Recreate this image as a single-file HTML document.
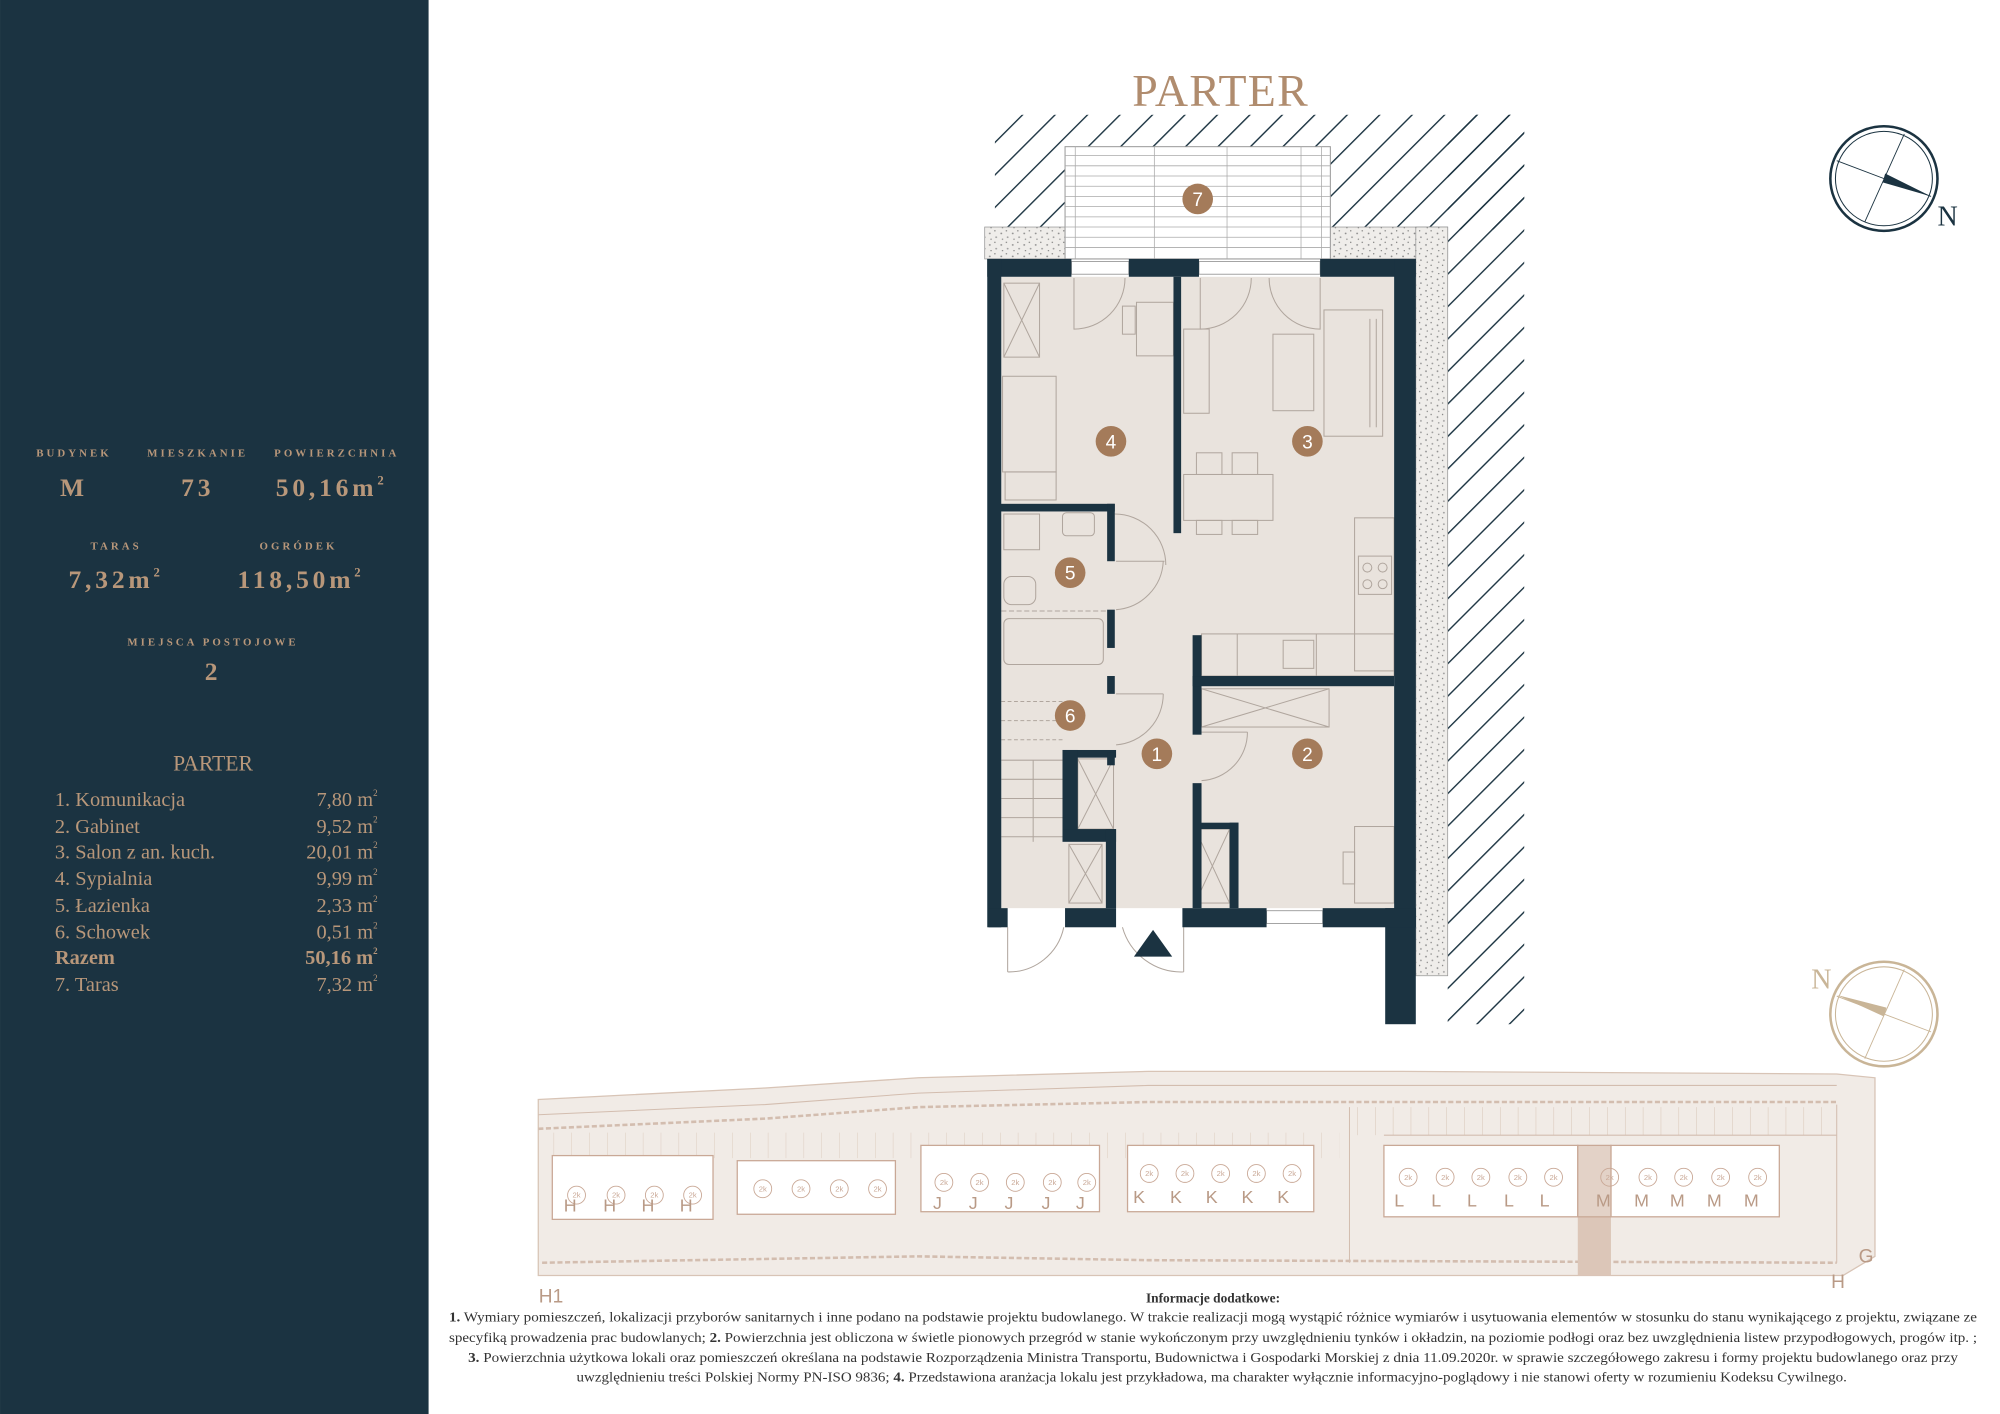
<!DOCTYPE html>
<html><head><meta charset="utf-8"><style>
html,body{margin:0;padding:0;background:#fff;}
svg{display:block;}
</style></head><body>
<svg width="2000" height="1414" viewBox="0 0 1568 1108.6" xmlns="http://www.w3.org/2000/svg" font-family="'Liberation Serif', serif">
<defs>
<pattern id="hatch" patternUnits="userSpaceOnUse" width="18" height="18" patternTransform="rotate(45)">
<line x1="0" y1="0" x2="0" y2="18" stroke="#1b3341" stroke-width="2.2"/>
</pattern>
<pattern id="grav" patternUnits="userSpaceOnUse" width="9" height="9">
<rect width="9" height="9" fill="#efedea"/>
<circle cx="2" cy="3" r="0.7" fill="#8a8a8a"/><circle cx="6" cy="1" r="0.5" fill="#666"/>
<circle cx="7" cy="6" r="0.7" fill="#999"/><circle cx="3" cy="7.5" r="0.5" fill="#777"/>
</pattern>
<pattern id="park" patternUnits="userSpaceOnUse" width="14" height="30">
<line x1="0" y1="0" x2="0" y2="30" stroke="#d8c4b6" stroke-width="0.8"/>
</pattern>
</defs>
<rect width="1568" height="1109" fill="#fff"/>
<rect x="0" y="0" width="336" height="1109" fill="#1b3341"/>
<g fill="#b8977a" text-anchor="middle">
<g font-size="8.5" font-weight="bold" letter-spacing="2.4">
<text x="58" y="358">BUDYNEK</text><text x="155" y="358">MIESZKANIE</text><text x="264" y="358">POWIERZCHNIA</text>
<text x="91" y="431">TARAS</text><text x="234" y="431">OGRÓDEK</text>
<text x="167" y="506">MIEJSCA POSTOJOWE</text>
</g>
<g font-size="20" font-weight="bold" letter-spacing="3">
<text x="58" y="389">M</text><text x="155" y="389">73</text>
<text x="260" y="389">50,16m<tspan font-size="10" dy="-9">2</tspan></text>
<text x="91" y="461">7,32m<tspan font-size="10" dy="-9">2</tspan></text>
<text x="236" y="461">118,50m<tspan font-size="10" dy="-9">2</tspan></text>
<text x="167" y="533">2</text>
</g>
<text x="167" y="604" font-size="17">PARTER</text>
</g>
<g fill="#b8977a" font-size="16">
<text x="43" y="632">1. Komunikacja</text><text x="43" y="653">2. Gabinet</text><text x="43" y="673">3. Salon z an. kuch.</text>
<text x="43" y="694">4. Sypialnia</text><text x="43" y="715">5. Łazienka</text><text x="43" y="736">6. Schowek</text>
<text x="43" y="756" font-weight="bold">Razem</text><text x="43" y="777">7. Taras</text>
<g text-anchor="end">
<text x="296" y="632">7,80 m<tspan font-size="7" dy="-8">2</tspan></text>
<text x="296" y="653">9,52 m<tspan font-size="7" dy="-8">2</tspan></text>
<text x="296" y="673">20,01 m<tspan font-size="7" dy="-8">2</tspan></text>
<text x="296" y="694">9,99 m<tspan font-size="7" dy="-8">2</tspan></text>
<text x="296" y="715">2,33 m<tspan font-size="7" dy="-8">2</tspan></text>
<text x="296" y="736">0,51 m<tspan font-size="7" dy="-8">2</tspan></text>
<text x="296" y="756" font-weight="bold">50,16 m<tspan font-size="7" dy="-8">2</tspan></text>
<text x="296" y="777">7,32 m<tspan font-size="7" dy="-8">2</tspan></text>
</g></g>

<text x="957" y="83" font-size="36" fill="#b08c6e" text-anchor="middle" letter-spacing="1">PARTER</text>

<rect x="780" y="90" width="415" height="90" fill="url(#hatch)"/>
<rect x="1135" y="90" width="60" height="713" fill="url(#hatch)"/>
<rect x="772" y="178" width="363" height="25" fill="url(#grav)" stroke="#999" stroke-width="0.6"/>
<rect x="1110" y="178" width="25" height="587" fill="url(#grav)" stroke="#999" stroke-width="0.6"/>
<rect x="835" y="115" width="208" height="88" fill="#fff" stroke="#999" stroke-width="0.8"/>
<g stroke="#aaa" stroke-width="0.6">
<line x1="835" y1="122" x2="1043" y2="122"/><line x1="835" y1="130" x2="1043" y2="130"/><line x1="835" y1="138" x2="1043" y2="138"/>
<line x1="835" y1="146" x2="1043" y2="146"/><line x1="835" y1="154" x2="1043" y2="154"/><line x1="835" y1="162" x2="1043" y2="162"/>
<line x1="835" y1="170" x2="1043" y2="170"/><line x1="835" y1="178" x2="1043" y2="178"/><line x1="835" y1="186" x2="1043" y2="186"/>
<line x1="835" y1="194" x2="1043" y2="194"/>
<line x1="843" y1="115" x2="843" y2="203"/><line x1="905" y1="115" x2="905" y2="203"/><line x1="962" y1="115" x2="962" y2="203"/>
<line x1="1020" y1="115" x2="1020" y2="203"/><line x1="1036" y1="115" x2="1036" y2="203"/>
</g>
<rect x="785" y="217" width="308" height="495" fill="#e9e3dd"/>
<g stroke="#b0a69e" stroke-width="0.8" fill="none">
<rect x="787" y="222" width="28" height="58"/><path d="M787 222L815 280M815 222L787 280"/>
<rect x="786" y="295" width="42" height="75"/><rect x="788" y="370" width="40" height="22"/>
<rect x="891" y="237" width="29" height="42"/><rect x="880" y="240" width="10" height="22"/>
<path d="M842 218V258A40 40 0 0 0 882 218"/>
<path d="M941 218V258A40 40 0 0 0 981 218M1035 218V258A40 40 0 0 1 995 218"/>
<rect x="928" y="258" width="20" height="66"/><rect x="998" y="262" width="32" height="60"/>
<rect x="1038" y="243" width="46" height="99"/><line x1="1074" y1="250" x2="1074" y2="335"/><line x1="1079" y1="250" x2="1079" y2="335"/>
<rect x="928" y="372" width="70" height="36"/>
<rect x="938" y="355" width="20" height="17"/><rect x="966" y="355" width="20" height="17"/>
<rect x="938" y="408" width="20" height="11"/><rect x="966" y="408" width="20" height="11"/>
<rect x="1062" y="406" width="31" height="120"/><rect x="1065" y="436" width="26" height="30"/>
<circle cx="1072" cy="445" r="3.5"/><circle cx="1084" cy="445" r="3.5"/><circle cx="1072" cy="458" r="3.5"/><circle cx="1084" cy="458" r="3.5"/>
<rect x="942" y="497" width="151" height="33"/><line x1="970" y1="497" x2="970" y2="530"/><line x1="1032" y1="497" x2="1032" y2="530"/>
<rect x="1006" y="502" width="24" height="22"/>
<rect x="787" y="403" width="28" height="28"/><rect x="833" y="402" width="25" height="18" rx="3"/>
<rect x="787" y="452" width="25" height="22" rx="6"/>
<rect x="787" y="485" width="78" height="36" rx="4"/>
<line x1="785" y1="479" x2="868" y2="479" stroke-dasharray="4 2"/>
<path d="M874 403A40 40 0 0 1 914 443M875 440H913M875 478A40 40 0 0 0 912 440"/>
<path d="M875 544H912M875 584A40 40 0 0 0 912 544M942 574H978M942 612A38 38 0 0 0 978 574"/>
<g stroke-dasharray="3 2"><line x1="785" y1="550" x2="833" y2="550"/><line x1="785" y1="565" x2="833" y2="565"/><line x1="785" y1="580" x2="833" y2="580"/></g>
<line x1="785" y1="596" x2="833" y2="596"/><line x1="785" y1="611" x2="833" y2="611"/><line x1="785" y1="626" x2="833" y2="626"/><line x1="785" y1="641" x2="833" y2="641"/><line x1="785" y1="656" x2="833" y2="656"/>
<line x1="810" y1="596" x2="810" y2="660"/>
<rect x="845" y="595" width="28" height="55"/><path d="M845 595L873 650M873 595L845 650"/>
<rect x="838" y="662" width="26" height="46"/><path d="M838 662L864 708M864 662L838 708"/>
<rect x="937" y="650" width="27" height="58"/><path d="M937 650L964 708M964 650L937 708"/>
<rect x="942" y="540" width="100" height="30"/><path d="M942 540L1042 570M1042 540L942 570"/>
<rect x="1062" y="648" width="31" height="60"/><rect x="1053" y="668" width="9" height="25"/>
<path d="M790 727V762M790 762A44 44 0 0 0 834 727M880 727A48 48 0 0 0 928 762M928 727V762"/>
</g>
<g fill="#fff" stroke="#999" stroke-width="0.7">
<rect x="840" y="205" width="45" height="10"/><rect x="940" y="205" width="95" height="10"/><rect x="993" y="714" width="44" height="10"/>
</g>
<g fill="#1b3341">
<rect x="774" y="203" width="66" height="14"/><rect x="885" y="203" width="55" height="14"/><rect x="1035" y="203" width="75" height="14"/>
<rect x="774" y="203" width="11" height="524"/>
<rect x="1093" y="203" width="17" height="524"/><rect x="1086" y="712" width="24" height="91"/>
<rect x="775" y="712" width="15" height="15"/><rect x="835" y="712" width="40" height="15"/><rect x="927" y="712" width="66" height="15"/><rect x="1037" y="712" width="73" height="15"/>
<rect x="920" y="217" width="6" height="201"/>
<rect x="784" y="395" width="90" height="6"/><rect x="868" y="395" width="6" height="45"/>
<rect x="868" y="478" width="6" height="30"/><rect x="868" y="530" width="6" height="14"/>
<rect x="935" y="498" width="7" height="78"/><rect x="935" y="614" width="7" height="98"/>
<rect x="935" y="530" width="158" height="8"/>
<rect x="833" y="588" width="42" height="6"/><rect x="833" y="588" width="12" height="70"/><rect x="833" y="650" width="42" height="10"/>
<rect x="867" y="650" width="8" height="62"/><rect x="868" y="590" width="6" height="10"/>
<rect x="941" y="645" width="30" height="5"/><rect x="964" y="645" width="7" height="67"/>
</g>
<polygon points="889,750 919,750 904,729" fill="#1b3341"/>
<g fill="#a47b5a"><circle cx="939" cy="156" r="12"/><circle cx="871" cy="346" r="12"/><circle cx="1025" cy="346" r="12"/>
<circle cx="839" cy="449" r="12"/><circle cx="839" cy="561" r="12"/><circle cx="907" cy="591" r="12"/><circle cx="1025" cy="591" r="12"/></g>
<g fill="#fff" font-family="'Liberation Sans',sans-serif" font-size="15" text-anchor="middle">
<text x="939" y="161.5">7</text><text x="871" y="351.5">4</text><text x="1025" y="351.5">3</text><text x="839" y="454.5">5</text>
<text x="839" y="566.5">6</text><text x="907" y="596.5">1</text><text x="1025" y="596.5">2</text></g>

<g stroke="#1b3341" fill="none">
<ellipse cx="1477" cy="140" rx="42" ry="41" stroke-width="2"/><ellipse cx="1477" cy="140" rx="38" ry="37" stroke-width="0.8"/>
<line x1="1440" y1="126" x2="1514" y2="154" stroke-width="0.7"/><line x1="1493" y1="105" x2="1462" y2="174" stroke-width="0.7"/>
</g>
<polygon points="1478,136 1514,154 1476,143" fill="#1b3341"/>
<text x="1527" y="177" font-size="22" fill="#1b3341" text-anchor="middle">N</text>
<g stroke="#c9b597" fill="none">
<ellipse cx="1477" cy="795" rx="42" ry="41" stroke-width="2"/><ellipse cx="1477" cy="795" rx="38" ry="37" stroke-width="0.8"/>
<line x1="1440" y1="781" x2="1514" y2="809" stroke-width="0.7"/><line x1="1493" y1="760" x2="1462" y2="830" stroke-width="0.7"/>
</g>
<polygon points="1440,780 1479,790 1477,797" fill="#c9b597"/>
<text x="1428" y="775" font-size="22" fill="#c9b597" text-anchor="middle">N</text>

<polygon points="422,862 600,853 720,845 900,840 1100,840 1440,842 1470,845 1470,985 1445,1000 422,1000" fill="#f1ebe6" stroke="#d8c4b6" stroke-width="1"/>
<rect x="1058" y="868" width="382" height="22" fill="url(#park)"/>
<rect x="430" y="888" width="620" height="20" fill="url(#park)" opacity="0.8"/>
<g stroke="#d3bdaf" stroke-width="0.8" fill="none">
<polyline points="422,874 600,866 720,857 900,851 1440,851"/>
<polyline points="422,885 600,877 720,868 900,864 1440,864" stroke-dasharray="4 2" stroke-width="2"/>
<line x1="1058" y1="868" x2="1058" y2="990"/><line x1="1440" y1="866" x2="1440" y2="990"/>
<line x1="1085" y1="890" x2="1440" y2="890"/>
<polyline points="425,990 720,985 900,988 1440,990" stroke-dasharray="4 2" stroke-width="2"/>
</g>
<rect x="1237" y="898" width="26" height="102" fill="#dcc6b8"/>
<g fill="#fff" stroke="#c9a896" stroke-width="1">
<rect x="433" y="906" width="126" height="50"/><rect x="578" y="910" width="124" height="42"/>
<rect x="722" y="898" width="140" height="52"/><rect x="884" y="898" width="146" height="52"/>
<rect x="1085" y="898" width="152" height="56"/><rect x="1263" y="898" width="132" height="56"/>
</g>
<rect x="1237" y="898" width="26" height="56" fill="#e3d2c7" stroke="#c9a896"/>
<g fill="none" stroke="#c9a896" stroke-width="0.7">
<circle cx="452" cy="937" r="7"/><circle cx="483" cy="937" r="7"/><circle cx="513" cy="937" r="7"/><circle cx="543" cy="937" r="7"/>
<circle cx="598" cy="932" r="7"/><circle cx="628" cy="932" r="7"/><circle cx="658" cy="932" r="7"/><circle cx="688" cy="932" r="7"/>
<circle cx="740" cy="927" r="7"/><circle cx="768" cy="927" r="7"/><circle cx="796" cy="927" r="7"/><circle cx="825" cy="927" r="7"/><circle cx="852" cy="927" r="7"/>
<circle cx="901" cy="920" r="7"/><circle cx="929" cy="920" r="7"/><circle cx="957" cy="920" r="7"/><circle cx="985" cy="920" r="7"/><circle cx="1013" cy="920" r="7"/>
<circle cx="1104" cy="923" r="7"/><circle cx="1133" cy="923" r="7"/><circle cx="1161" cy="923" r="7"/><circle cx="1190" cy="923" r="7"/><circle cx="1218" cy="923" r="7"/>
<circle cx="1262" cy="923" r="7"/><circle cx="1292" cy="923" r="7"/><circle cx="1320" cy="923" r="7"/><circle cx="1349" cy="923" r="7"/><circle cx="1378" cy="923" r="7"/>
</g>
<g fill="#c9a896" font-family="'Liberation Sans',sans-serif" font-size="6" text-anchor="middle">
<text x="452" y="939">2k</text><text x="483" y="939">2k</text><text x="513" y="939">2k</text><text x="543" y="939">2k</text>
<text x="598" y="934">2k</text><text x="628" y="934">2k</text><text x="658" y="934">2k</text><text x="688" y="934">2k</text>
<text x="740" y="929">2k</text><text x="768" y="929">2k</text><text x="796" y="929">2k</text><text x="825" y="929">2k</text><text x="852" y="929">2k</text>
<text x="901" y="922">2k</text><text x="929" y="922">2k</text><text x="957" y="922">2k</text><text x="985" y="922">2k</text><text x="1013" y="922">2k</text>
<text x="1104" y="925">2k</text><text x="1133" y="925">2k</text><text x="1161" y="925">2k</text><text x="1190" y="925">2k</text><text x="1218" y="925">2k</text>
<text x="1262" y="925">2k</text><text x="1292" y="925">2k</text><text x="1320" y="925">2k</text><text x="1349" y="925">2k</text><text x="1378" y="925">2k</text>
</g>
<g fill="#b99a86" font-family="'Liberation Sans',sans-serif" font-size="14" text-anchor="middle">
<text x="1097" y="946">L</text><text x="1126" y="946">L</text><text x="1154" y="946">L</text><text x="1183" y="946">L</text><text x="1211" y="946">L</text>
<text x="1257" y="946">M</text><text x="1287" y="946">M</text><text x="1315" y="946">M</text><text x="1344" y="946">M</text><text x="1373" y="946">M</text>
<text x="893" y="943">K</text><text x="922" y="943">K</text><text x="950" y="943">K</text><text x="978" y="943">K</text><text x="1006" y="943">K</text>
<text x="735" y="948">J</text><text x="763" y="948">J</text><text x="791" y="948">J</text><text x="820" y="948">J</text><text x="847" y="948">J</text>
<text x="447" y="950">H</text><text x="478" y="950">H</text><text x="508" y="950">H</text><text x="538" y="950">H</text>
<text x="432" y="1021" font-size="15">H1</text><text x="1441" y="1010" font-size="15">H</text><text x="1463" y="990" font-size="15">G</text>
</g>

<g fill="#333" font-size="10.5" text-anchor="start">
<text x="951" y="1021" font-weight="bold" text-anchor="middle">Informacje dodatkowe:</text>
<text x="352" y="1036" textLength="1198" lengthAdjust="spacingAndGlyphs"><tspan font-weight="bold">1.</tspan> Wymiary pomieszczeń, lokalizacji przyborów sanitarnych i inne podano na podstawie projektu budowlanego. W trakcie realizacji mogą wystąpić różnice wymiarów i usytuowania elementów w stosunku do stanu wynikającego z projektu, związane ze</text>
<text x="352" y="1052" textLength="1198" lengthAdjust="spacingAndGlyphs">specyfiką prowadzenia prac budowlanych; <tspan font-weight="bold">2.</tspan> Powierzchnia jest obliczona w świetle pionowych przegród w stanie wykończonym przy uwzględnieniu tynków i okładzin, na poziomie podłogi oraz bez uwzględnienia listew przypodłogowych, progów itp. ;</text>
<text x="367" y="1068" textLength="1168" lengthAdjust="spacingAndGlyphs"><tspan font-weight="bold">3.</tspan> Powierzchnia użytkowa lokali oraz pomieszczeń określana na podstawie Rozporządzenia Ministra Transportu, Budownictwa i Gospodarki Morskiej z dnia 11.09.2020r. w sprawie szczegółowego zakresu i formy projektu budowlanego oraz przy</text>
<text x="452" y="1083" textLength="996" lengthAdjust="spacingAndGlyphs">uwzględnieniu treści Polskiej Normy PN-ISO 9836; <tspan font-weight="bold">4.</tspan> Przedstawiona aranżacja lokalu jest przykładowa, ma charakter wyłącznie informacyjno-poglądowy i nie stanowi oferty w rozumieniu Kodeksu Cywilnego.</text>
</g>
</svg>
</body></html>
